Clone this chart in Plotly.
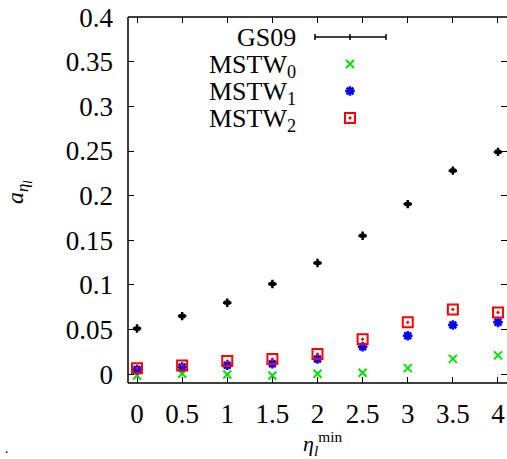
import plotly.graph_objects as go

eta_min = [0, 0.5, 1, 1.5, 2, 2.5, 3, 3.5, 4]
gs09 = [0.051, 0.065, 0.080, 0.101, 0.1245, 0.155, 0.1905, 0.228, 0.249]
gs09_err = [0.0015, 0.0015, 0.0015, 0.0015, 0.0015, 0.0015, 0.0015, 0.0015, 0.0015]
mstw0 = [-0.0015, 0.0003, -0.0004, -0.0015, 0.0004, 0.0015, 0.0067, 0.017, 0.021]
mstw1 = [0.005, 0.008, 0.010, 0.0116, 0.017, 0.0306, 0.043, 0.055, 0.058]
mstw2 = [0.0064, 0.0097, 0.0146, 0.0168, 0.0224, 0.039, 0.058, 0.0725, 0.069]
x_ticks = [0, 0.5, 1, 1.5, 2, 2.5, 3, 3.5, 4]
x_ticklabels = ["0", "0.5", "1", "1.5", "2", "2.5", "3", "3.5", "4"]
y_ticks = [0, 0.05, 0.1, 0.15, 0.2, 0.25, 0.3, 0.35, 0.4]
y_ticklabels = ["0", "0.05", "0.1", "0.15", "0.2", "0.25", "0.3", "0.35", "0.4"]

GREEN = "#00e000"
BLUE = "#0000ff"
RED = "#ff0000"
FONT = "Liberation Serif, Times New Roman, DejaVu Serif, serif"

W, H = 507, 459
# plot area in page pixels
PL, PR, PT, PB = 128, 507, 17, 383
L, R, T, B = PL, W - PR, PT, H - PB

fig = go.Figure()

fig.add_trace(go.Scatter(
    x=eta_min, y=gs09, mode="markers",
    marker=dict(symbol="cross-thin", size=6, line=dict(width=2.5, color="black"), color="black"),
    error_y=dict(type="data", array=gs09_err, width=3, thickness=1.5, color="black"),
    showlegend=False))
fig.add_trace(go.Scatter(
    x=eta_min, y=mstw0, mode="markers",
    marker=dict(symbol="x-thin", size=8, line=dict(width=2, color=GREEN)),
    showlegend=False))
fig.add_trace(go.Scatter(
    x=eta_min, y=mstw1, mode="markers",
    marker=dict(symbol="asterisk", size=8, line=dict(width=2.5, color=BLUE)),
    showlegend=False))
fig.add_trace(go.Scatter(
    x=eta_min, y=mstw2, mode="markers",
    marker=dict(symbol="square-open-dot", size=10, color=RED, line=dict(width=2, color=RED)),
    showlegend=False))

# custom legend (text left, sample right), on a page-pixel overlay axis
leg_x_text = 298
leg_x_sym = 350
leg_rows = [("GS09", 37), ("MSTW<sub>0</sub>", 66), ("MSTW<sub>1</sub>", 93), ("MSTW<sub>2</sub>", 120)]
leg_sym_y = [37, 64, 91, 118]
leg_styles = [None,
              dict(symbol="x-thin", size=8, line=dict(width=2, color=GREEN)),
              dict(symbol="asterisk", size=8, line=dict(width=2.5, color=BLUE)),
              dict(symbol="square-open-dot", size=10, color=RED, line=dict(width=2, color=RED))]

for (label, yy), sy, st in zip(leg_rows, leg_sym_y, leg_styles):
    fig.add_annotation(xref="x2", yref="y2", x=leg_x_text, y=yy, text=label, showarrow=False,
                       xanchor="right", yanchor="middle", font=dict(family=FONT, size=26, color="black"))
    if st is not None:
        fig.add_trace(go.Scatter(x=[leg_x_sym], y=[sy], xaxis="x2", yaxis="y2", mode="markers",
                                 marker=st, showlegend=False, hoverinfo="skip"))

# GS09 legend sample (errorbar line)
gy = leg_sym_y[0]
fig.add_shape(type="line", xref="x2", yref="y2", x0=315, x1=386, y0=gy, y1=gy, line=dict(color="black", width=1.5))
for xx in (315, 350, 386):
    fig.add_shape(type="line", xref="x2", yref="y2", x0=xx, x1=xx, y0=gy - 3, y1=gy + 3, line=dict(color="black", width=1.5))

# frame: left, top, bottom (right edge is outside the picture)
for x0, y0, x1, y1 in [(0, 0, 0, 1), (0, 1, 1, 1), (0, 0, 1, 0)]:
    fig.add_shape(type="line", xref="paper", yref="paper", x0=x0, y0=y0, x1=x1, y1=y1,
                  line=dict(color="black", width=1.5))

axis_common = dict(ticks="inside", ticklen=6, tickwidth=1, tickcolor="black", showgrid=False,
                   zeroline=False, showline=False, mirror="ticks",
                   tickfont=dict(family=FONT, size=27, color="black"))

fig.update_layout(
    width=W, height=H, margin=dict(l=L, r=R, t=T, b=B, pad=0),
    paper_bgcolor="white", plot_bgcolor="white",
    xaxis=dict(range=[-0.1, 4.1], tickvals=x_ticks, ticktext=x_ticklabels, ticklabelstandoff=12, **axis_common),
    yaxis=dict(range=[-0.01, 0.4002], tickvals=y_ticks, ticktext=y_ticklabels, ticklabelstandoff=14, **axis_common),
    xaxis2=dict(range=[PL, PR], overlaying="x", visible=False, fixedrange=True),
    yaxis2=dict(range=[PB, PT], overlaying="y", visible=False, fixedrange=True),
    showlegend=False,
)

pw, ph = PR - PL, PB - PT
fig.add_annotation(xref="paper", yref="paper", x=(18 - PL) / pw, y=(PB - 192) / ph, textangle=-90,
                   xanchor="center", yanchor="middle",
                   text="<i>a</i><sub><i>η<sub>l</sub></i></sub>", showarrow=False,
                   font=dict(family=FONT, size=24, color="black"))
fig.add_annotation(xref="paper", yref="paper", x=(322 - PL) / pw, y=(PB - 443) / ph,
                   xanchor="center", yanchor="middle",
                   text="<i>η</i><sub><i>l</i></sub><sup>min</sup>", showarrow=False,
                   font=dict(family=FONT, size=22, color="black"))
fig.add_annotation(xref="paper", yref="paper", x=(7 - PL) / pw, y=(PB - 448) / ph,
                   xanchor="center", yanchor="middle",
                   text=".", showarrow=False, font=dict(family=FONT, size=14, color="black"))

fig.write_html("out.html", config={"displayModeBar": False},
               post_script="document.body.style.margin='0';document.body.style.overflow='hidden';")
